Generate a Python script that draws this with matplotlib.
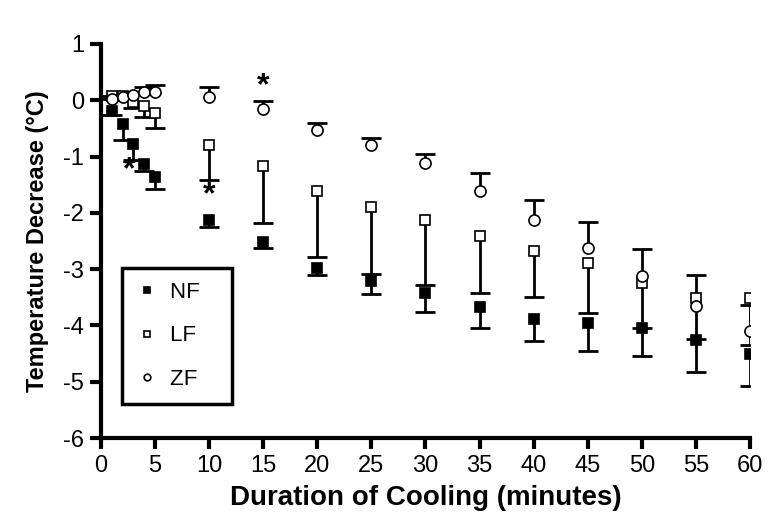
import matplotlib
matplotlib.use("Agg")
import matplotlib.pyplot as plt
import numpy as np

plt.rcParams['font.family'] = ['Liberation Sans', 'DejaVu Sans']
plt.rcParams['axes.unicode_minus'] = False

# time points (minutes)
times = np.array([1, 2, 3, 4, 5, 10, 15, 20, 25, 30, 35, 40, 45, 50, 55, 60])

# mean temperature decrease, one-sided error
nf = np.array([-0.19, -0.43, -0.77, -1.13, -1.37, -2.13, -2.51, -2.98, -3.21, -3.43,
               -3.68, -3.88, -3.95, -4.05, -4.26, -4.5])
nf_err = np.array([0.08, 0.28, 0.3, 0.12, 0.21, 0.12, 0.12, 0.13, 0.23, 0.33,
                   0.37, 0.4, 0.5, 0.5, 0.56, 0.58])

lf = np.array([0.08, 0.07, -0.04, -0.11, -0.22, -0.79, -1.17, -1.62, -1.89, -2.13,
               -2.42, -2.68, -2.9, -3.25, -3.52, -3.52])
lf_err = np.array([0.0, 0.0, 0.09, 0.19, 0.28, 0.63, 1.01, 1.16, 1.19, 1.15,
                   1.0, 0.82, 0.88, 0.8, 0.73, 0.83])

zf = np.array([0.03, 0.05, 0.1, 0.14, 0.15, 0.05, -0.15, -0.53, -0.8, -1.12,
               -1.62, -2.12, -2.62, -3.12, -3.65, -4.1])
zf_err = np.array([0.0, 0.0, 0.05, 0.1, 0.12, 0.18, 0.14, 0.12, 0.13, 0.17,
                   0.33, 0.35, 0.45, 0.47, 0.55, 0.47])

# significance marks
star_x = [2.6, 10, 15]
star_y = [-1.24, -1.68, 0.24]

fig = plt.figure(figsize=(7.69, 5.29), dpi=100)
ax = fig.add_axes([0.1313, 0.172, 0.844, 0.745])

lw = 2.0
cap = 14

# error bars: NF and LF downwards, ZF upwards
ax.vlines(times, lf - lf_err, lf, color='black', lw=lw, zorder=2)
ax.plot(times, lf - lf_err, ls='none', marker='_', ms=cap, mew=lw, color='black', zorder=2)
ax.vlines(times, nf - nf_err, nf, color='black', lw=lw, zorder=2)
ax.plot(times, nf - nf_err, ls='none', marker='_', ms=cap, mew=lw, color='black', zorder=2)
ax.vlines(times, zf, zf + zf_err, color='black', lw=lw, zorder=2)
ax.plot(times, zf + zf_err, ls='none', marker='_', ms=cap, mew=lw, color='black', zorder=2)

ax.plot(times, nf, ls='none', marker='s', ms=7.5, mfc='black', mec='black', mew=1.2,
        zorder=4, label='NF   ')
ax.plot(times, lf, ls='none', marker='s', ms=7.5, mfc='white', mec='black', mew=1.2,
        zorder=4, label='LF   ')
ax.plot(times, zf, ls='none', marker='o', ms=8, mfc='white', mec='black', mew=1.2,
        zorder=5, label='ZF   ')

for sx, sy in zip(star_x, star_y):
    ax.text(sx, sy, '*', ha='center', va='center', fontsize=23, fontweight='bold')

ax.set_xlim(0, 60)
ax.set_ylim(-6, 1)
ax.set_xticks([0, 5, 10, 15, 20, 25, 30, 35, 40, 45, 50, 55, 60])
ax.set_yticks(range(-6, 2))

for s in ['top', 'right']:
    ax.spines[s].set_visible(False)
for s in ['left', 'bottom']:
    ax.spines[s].set_linewidth(3)
ax.tick_params(width=3, length=8, labelsize=17, pad=4)

ax.set_xlabel('Duration of Cooling (minutes)', fontsize=20, fontweight='bold', labelpad=6)
ax.set_ylabel('Temperature Decrease (°C)', fontsize=17, fontweight='bold', labelpad=10)

leg = ax.legend(loc='lower left', bbox_to_anchor=(0.032, 0.086), fontsize=16,
                markerscale=0.6, handlelength=1.0, handletextpad=0.5,
                labelspacing=1.0, borderpad=0.65, fancybox=False, framealpha=1,
                borderaxespad=0)
leg.get_frame().set_edgecolor('black')
leg.get_frame().set_linewidth(2.5)

fig.savefig('out.png', dpi=100)
